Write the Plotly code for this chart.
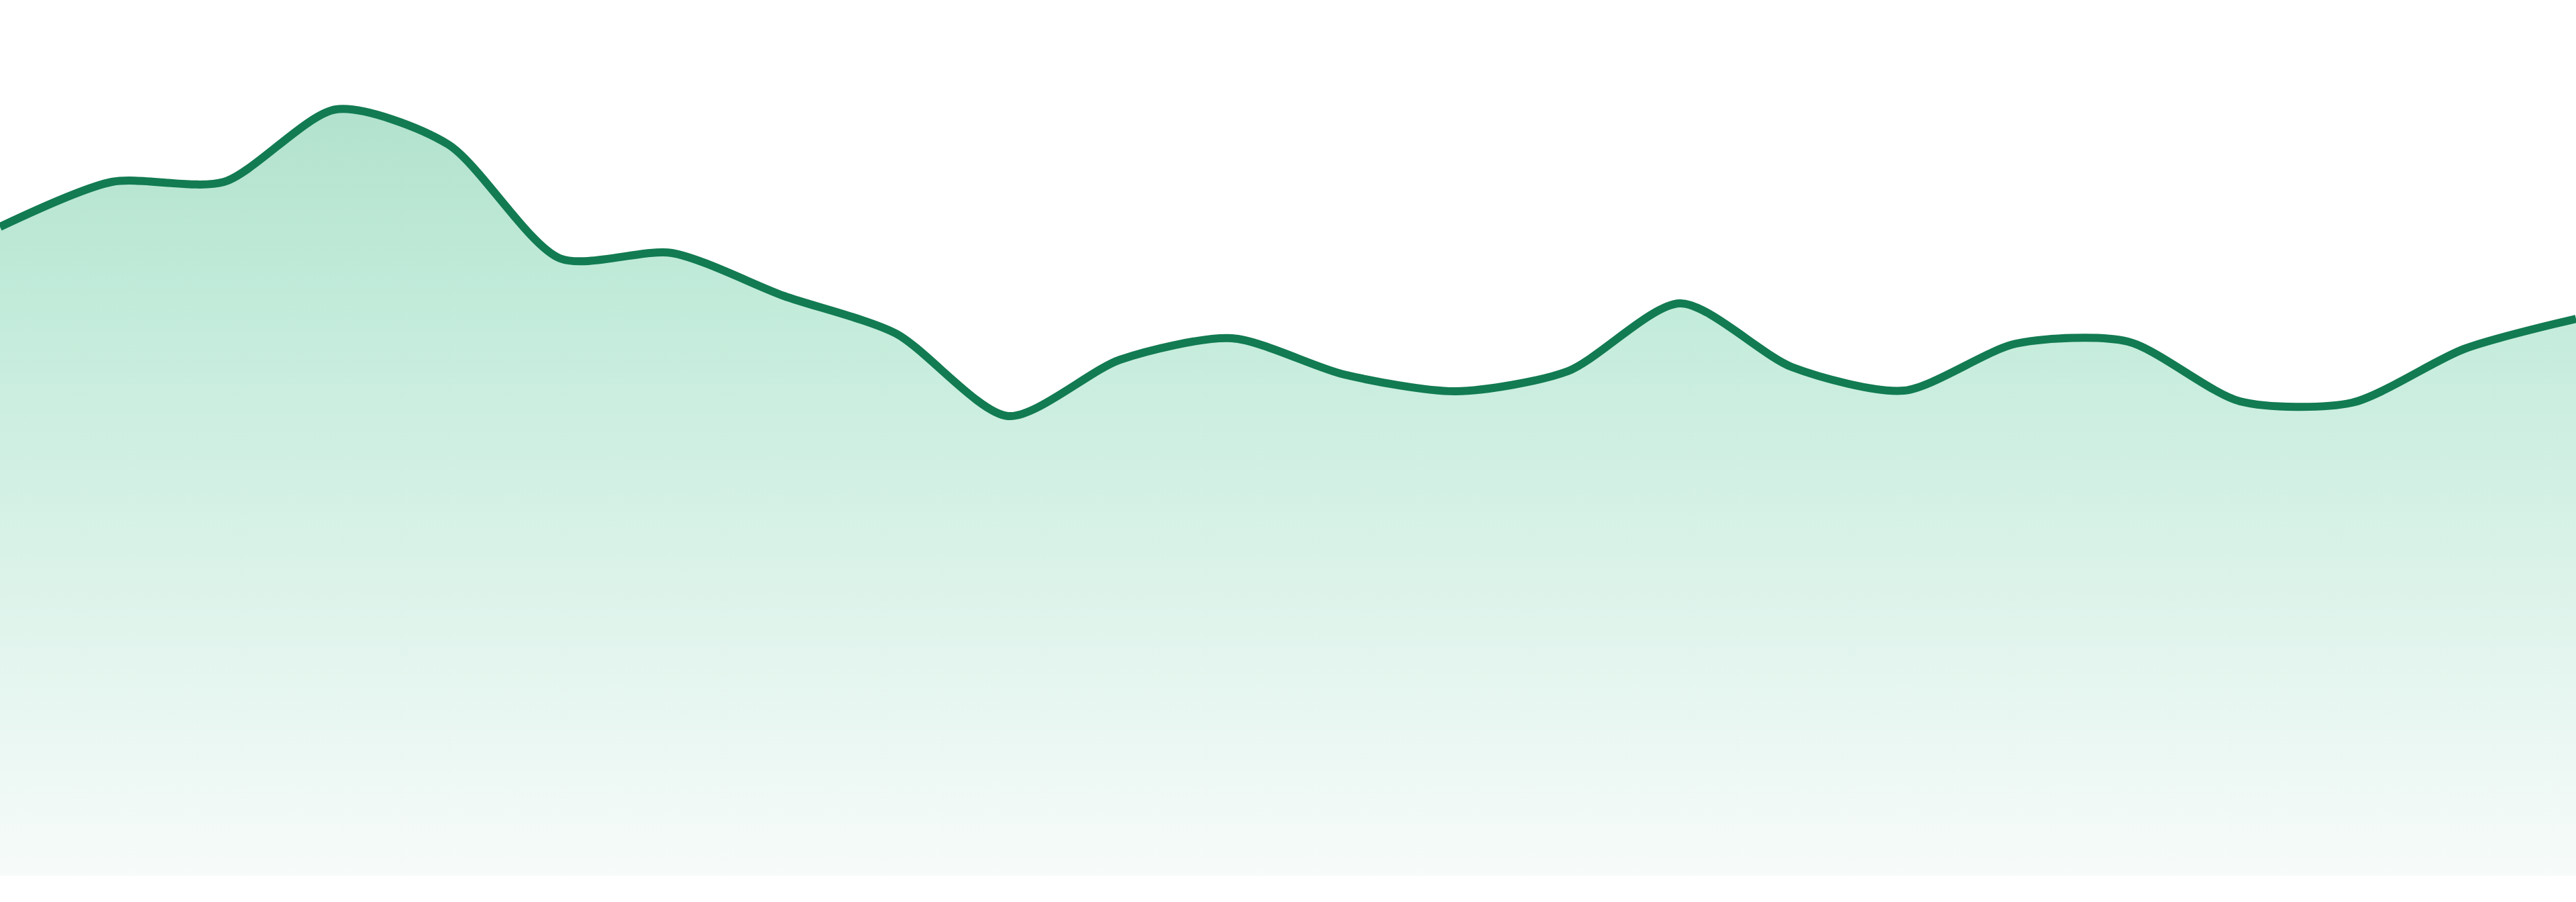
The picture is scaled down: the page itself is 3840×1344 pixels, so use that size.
import plotly.graph_objects as go

# Data (arbitrary units, baseline = 0)
points = list(range(24))
values = [967, 1034, 1034, 1142, 1090, 920, 928, 864, 808, 685, 769, 801,
          747, 722, 752, 853, 758, 723, 793, 796, 707, 705, 785, 830]

line_color = "#127b52"
fill_top = "rgb(178,226,205)"
fill_mid = "rgb(194,235,218)"
fill_bottom = "rgb(247,251,250)"

fig = go.Figure()
fig.add_trace(go.Scatter(
    x=points,
    y=values,
    mode="lines",
    line=dict(color=line_color, width=12, shape="spline", smoothing=0.75),
    fill="tozeroy",
    fillgradient=dict(
        type="vertical",
        colorscale=[[0, fill_bottom], [0.75, fill_mid], [1, fill_top]],
        start=0,
        stop=max(values),
    ),
    hoverinfo="skip",
    showlegend=False,
))

fig.update_layout(
    width=3840,
    height=1344,
    margin=dict(l=0, r=0, t=0, b=0),
    paper_bgcolor="white",
    plot_bgcolor="white",
    xaxis=dict(range=[0, 23], visible=False, fixedrange=True),
    yaxis=dict(range=[-39, 1305], visible=False, fixedrange=True),
    showlegend=False,
)

fig.write_html(
    "out.html",
    config={"displayModeBar": False},
    post_script="document.body.style.margin='0';document.body.style.overflow='hidden';",
)
